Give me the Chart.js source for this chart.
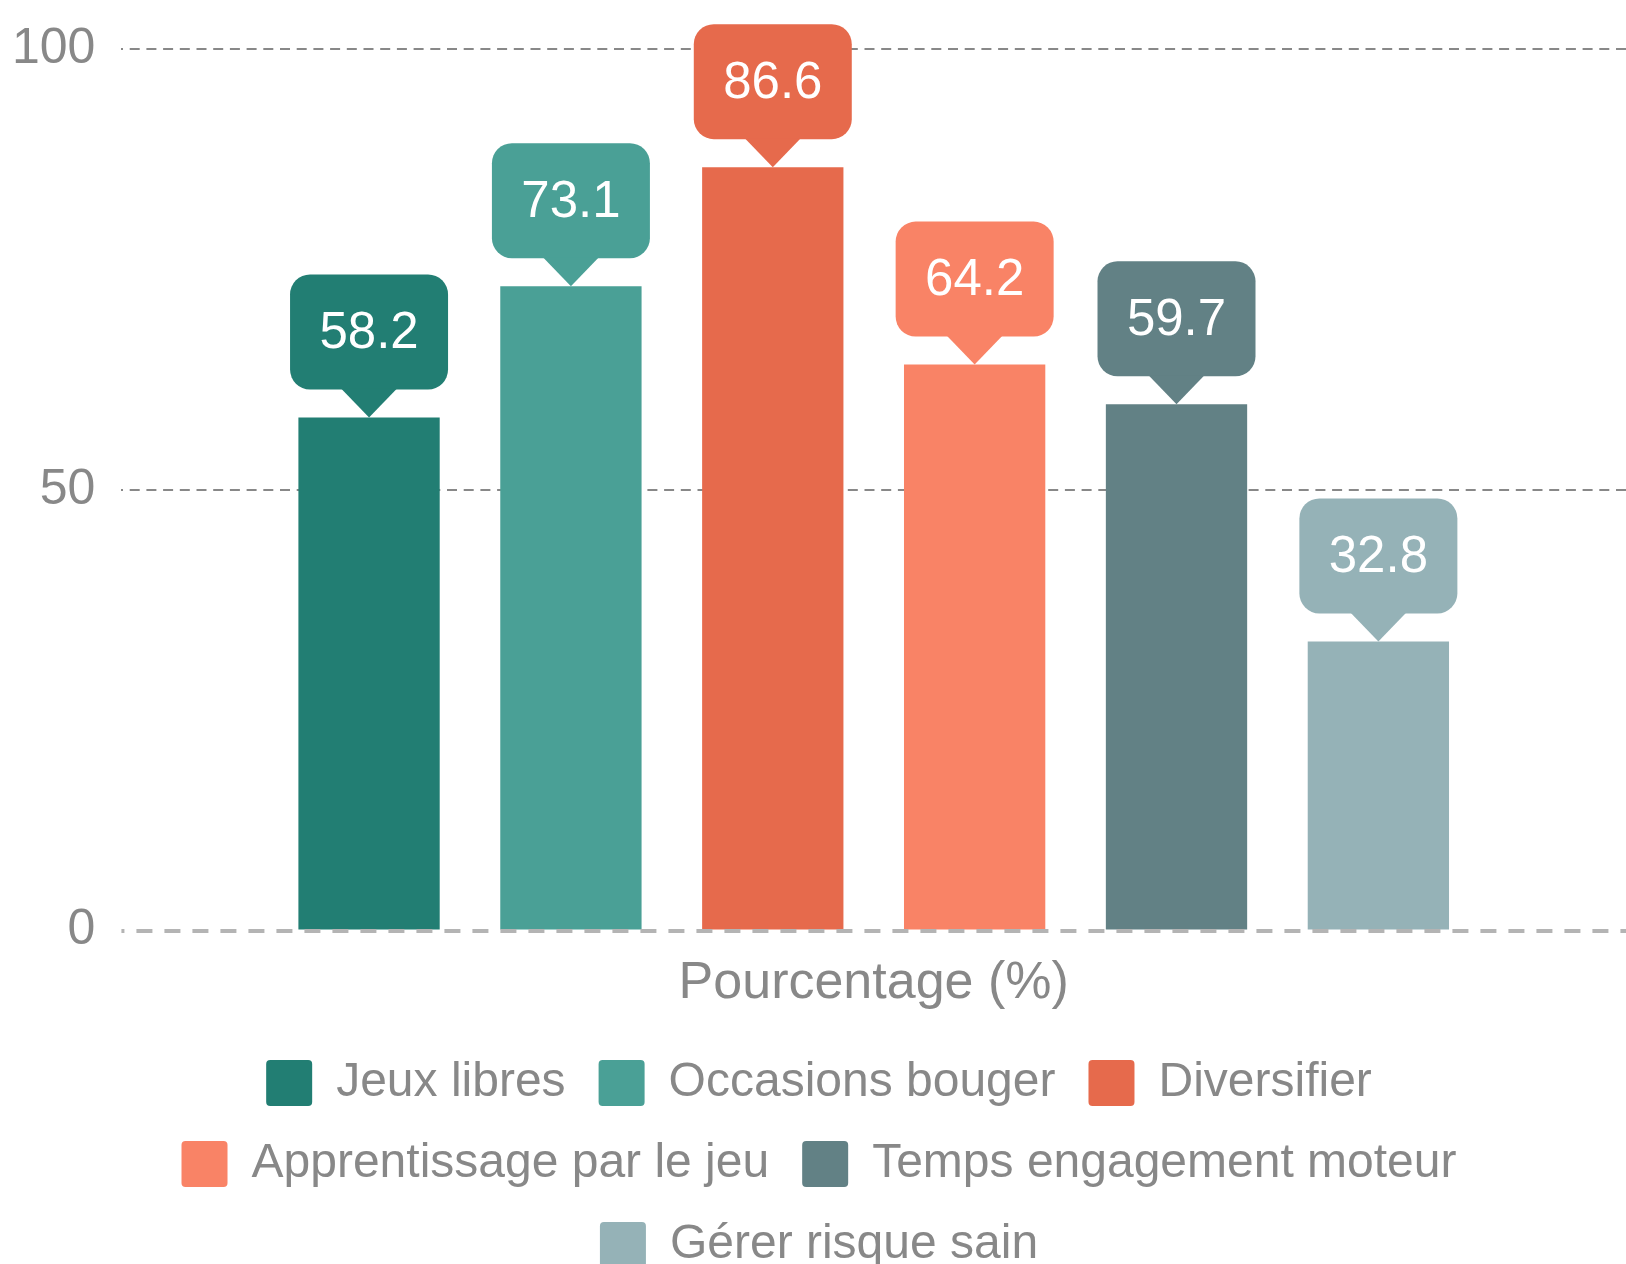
<!DOCTYPE html>
<html>
<head>
<meta charset="utf-8">
<script src="https://cdn.jsdelivr.net/npm/chart.js@4/dist/chart.umd.min.js"></script>
<style>
    html, body { margin: 0; padding: 0; background: #fff; overflow: hidden; }
    #wrap { width: 1626px; height: 1279px; position: relative; }
</style>
</head>
<body>
<div id="wrap"><canvas id="barChart"></canvas></div>
<script>
var categories = ['Pourcentage (%)'];
var seriesNames = ['Jeux libres', 'Occasions bouger', 'Diversifier', 'Apprentissage par le jeu', 'Temps engagement moteur', 'Gérer risque sain'];
var seriesValues = [58.2, 73.1, 86.6, 64.2, 59.7, 32.8];
var seriesColors = ['#227e73', '#4aa096', '#e66a4c', '#f98366', '#628185', '#95b2b7'];
var yTicks = [0, 50, 100];

var fontFamily = '"Liberation Sans", Arial, Helvetica, sans-serif';

// speech-bubble value labels above each bar
var bubbleLabels = {
    id: 'bubbleLabels',
    afterDatasetsDraw: function (chart) {
        var ctx = chart.ctx;
        for (var i = 0; i < chart.data.datasets.length; i++) {
            var ds = chart.data.datasets[i];
            var meta = chart.getDatasetMeta(i);
            for (var j = 0; j < meta.data.length; j++) {
                var bar = meta.data[j];
                var w = 158, h = 115, r = 20, tip = 28;
                var boxBottom = bar.y - tip;
                var boxTop = boxBottom - h;

                ctx.save();
                ctx.fillStyle = ds.backgroundColor;
                ctx.beginPath();
                ctx.roundRect(bar.x - w / 2, boxTop, w, h, r);
                ctx.fill();
                ctx.beginPath();
                ctx.moveTo(bar.x - tip, boxBottom - 1);
                ctx.lineTo(bar.x, bar.y);
                ctx.lineTo(bar.x + tip, boxBottom - 1);
                ctx.closePath();
                ctx.fill();

                ctx.fillStyle = '#ffffff';
                ctx.font = '51px ' + fontFamily;
                ctx.textAlign = 'center';
                ctx.textBaseline = 'middle';
                ctx.fillText(ds.data[j].toFixed(1), bar.x, boxTop + h / 2 + 2);
                ctx.restore();
            }
        }
    }
};

var datasets = [];
for (var i = 0; i < seriesNames.length; i++) {
    datasets.push({
        label: seriesNames[i],
        data: [seriesValues[i]],
        backgroundColor: seriesColors[i],
        borderWidth: 0,
        barPercentage: 0.7,
        categoryPercentage: 0.805,
        yAxisID: 'y'
    });
}

var ctx = document.getElementById('barChart').getContext('2d');
var myChart = new Chart(ctx, {
    type: 'bar',
    data: {
        labels: categories,
        datasets: datasets
    },
    plugins: [bubbleLabels],
    options: {
        responsive: true,
        maintainAspectRatio: false,
        animation: false,
        layout: {
            padding: { top: 49, left: 12, right: 0, bottom: 0 }
        },
        scales: {
            x: {
                grid: { display: false, drawTicks: false },
                border: { display: false },
                ticks: {
                    color: '#888888',
                    padding: 22,
                    font: { family: fontFamily, size: 52 }
                },
                afterFit: function (scale) {
                    scale.height -= 11;
                }
            },
            y: {
                min: 0,
                max: 100,
                afterBuildTicks: function (scale) {
                    scale.ticks = yTicks.map(function (v) { return { value: v }; });
                },
                afterFit: function (scale) {
                    scale.width -= 26;
                    scale.paddingTop = 0;
                    scale.paddingBottom = 0;
                },
                grid: {
                    drawTicks: false,
                    lineWidth: 2,
                    color: function (c) {
                        return c.tick && c.tick.value === 0 ? 'rgba(0,0,0,0)' : '#888888';
                    }
                },
                border: { display: false, dash: [10, 6.7], dashOffset: 8 },
                ticks: {
                    color: '#888888',
                    padding: 26,
                    font: { family: fontFamily, size: 50 }
                }
            },
            // second axis only to draw the thicker dashed zero line over the bars
            yZero: {
                position: 'right',
                min: 0,
                max: 100,
                afterBuildTicks: function (scale) {
                    scale.ticks = [{ value: 0 }];
                },
                afterFit: function (scale) {
                    scale.width = 0;
                },
                ticks: { display: false },
                grid: { drawTicks: false, color: '#b4b4b4', lineWidth: 4, z: 1 },
                border: { display: false, dash: [16, 12], dashOffset: 13 }
            }
        },
        plugins: {
            tooltip: { enabled: false },
            legend: {
                position: 'bottom',
                labels: {
                    color: '#888888',
                    boxWidth: 46,
                    boxHeight: 46,
                    padding: 33,
                    useBorderRadius: true,
                    borderRadius: 4,
                    font: { family: fontFamily, size: 48 }
                }
            }
        }
    }
});
</script>
</body>
</html>
